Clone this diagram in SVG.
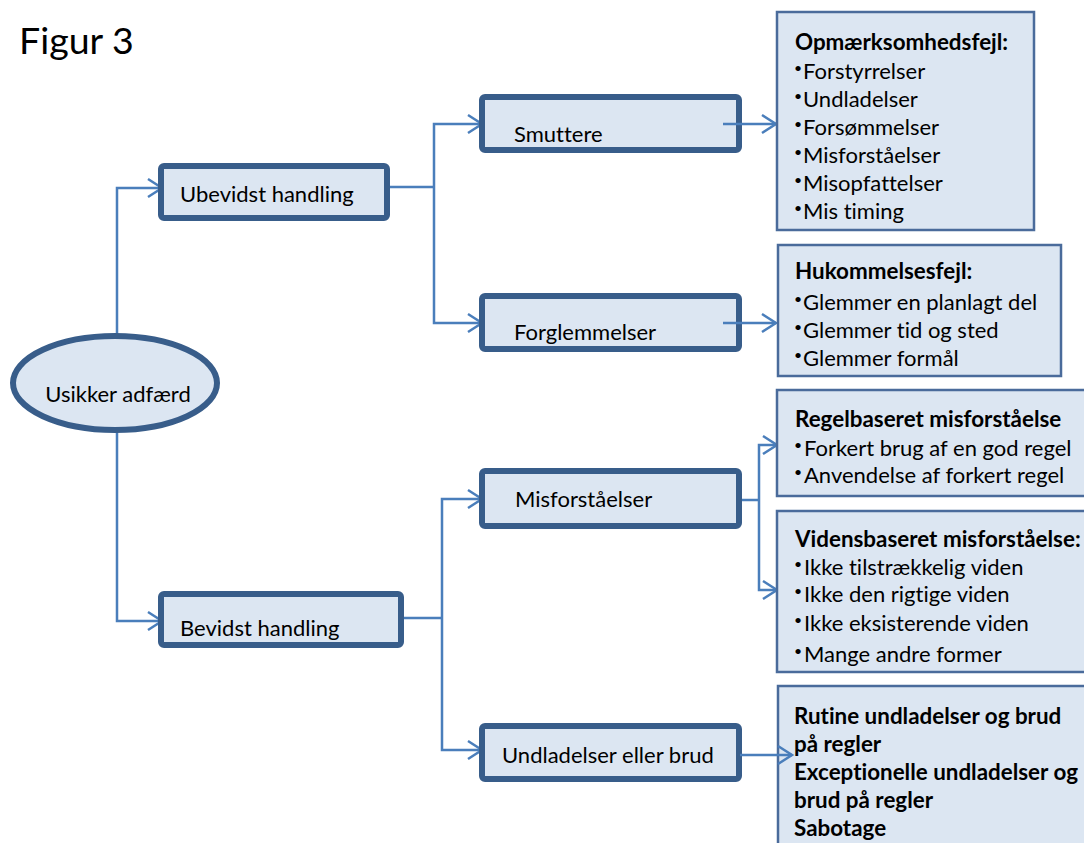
<svg xmlns="http://www.w3.org/2000/svg" width="1084" height="843" viewBox="0 0 1084 843">
  <defs>
    <marker id="arrow" viewBox="0 0 16 20" refX="15" refY="10" markerWidth="16" markerHeight="20" markerUnits="userSpaceOnUse" orient="auto" overflow="visible">
      <path d="M1,1 L15,10 L1,19" fill="none" stroke="#4a7ebb" stroke-width="2.5"/>
    </marker>
    <style>
      text { font-variant-ligatures: none; font-feature-settings: "liga" 0, "clig" 0; }
      .node { fill: #dce6f2; stroke: #385d8a; stroke-width: 6; }
      .info { fill: #dce6f2; stroke: #4a6b9b; stroke-width: 2.5; }
      .conn { fill: none; stroke: #4a7ebb; stroke-width: 2.5; }
      .lbl { font-family: Lato, "Liberation Sans", sans-serif; font-size: 22px; fill: #000; }
      .hd { font-family: Lato, "Liberation Sans", sans-serif; font-size: 22.4px; font-weight: bold; fill: #000; }
      .bul { font-family: Lato, "Liberation Sans", sans-serif; font-size: 14px; fill: #000; }
      .title { font-family: Lato, "Liberation Sans", sans-serif; font-size: 37.5px; fill: #000; }
    </style>
  </defs>

  <rect width="1084" height="843" fill="#ffffff"/>

  <text class="title" x="19" y="54">Figur 3</text>

  <!-- connectors -->
  <g id="connectors">
    <polyline class="conn" points="117,336 117,188 162,188" marker-end="url(#arrow)"/>
    <polyline class="conn" points="117,430 117,621 162,621" marker-end="url(#arrow)"/>
    <polyline class="conn" points="390,187 434,187"/>
    <polyline class="conn" points="434,187 434,124 482,124" marker-end="url(#arrow)"/>
    <polyline class="conn" points="434,187 434,323 482,323" marker-end="url(#arrow)"/>
    <polyline class="conn" points="404,618 442,618"/>
    <polyline class="conn" points="442,618 442,499 482,499" marker-end="url(#arrow)"/>
    <polyline class="conn" points="442,618 442,750 482,750" marker-end="url(#arrow)"/>
    <polyline class="conn" points="740,500 759,500"/>
    <polyline class="conn" points="759,500 759,445 777,445" marker-end="url(#arrow)"/>
    <polyline class="conn" points="759,500 759,590 777,590" marker-end="url(#arrow)"/>
  </g>

  <g id="usikker">
    <ellipse class="node" cx="115" cy="383" rx="102" ry="47"/>
    <text class="lbl" x="118" y="402" text-anchor="middle">Usikker adfærd</text>
  </g>

  <g id="ubevidst">
    <rect class="node" x="161" y="166" width="226" height="52" rx="3"/>
    <text class="lbl" x="180" y="202">Ubevidst handling</text>
  </g>

  <g id="bevidst">
    <rect class="node" x="161" y="594" width="240" height="51" rx="3"/>
    <text class="lbl" x="180" y="636">Bevidst handling</text>
  </g>

  <g id="smuttere">
    <rect class="node" x="482" y="97" width="257" height="53" rx="3"/>
    <text class="lbl" x="514" y="142">Smuttere</text>
  </g>

  <g id="forglemmelser">
    <rect class="node" x="482" y="296" width="257" height="53" rx="3"/>
    <text class="lbl" x="514" y="340">Forglemmelser</text>
  </g>

  <g id="misforstaaelser">
    <rect class="node" x="482" y="471" width="257" height="55" rx="3"/>
    <text class="lbl" x="515" y="507">Misforståelser</text>
  </g>

  <g id="undladelser">
    <rect class="node" x="482" y="726" width="257" height="53" rx="3"/>
    <text class="lbl" x="502" y="763">Undladelser eller brud</text>
  </g>

  <!-- arrows leaving the middle column, drawn over the boxes -->
  <g id="connectors-out">
    <line class="conn" x1="723" y1="124" x2="776" y2="124" marker-end="url(#arrow)"/>
    <line class="conn" x1="723" y1="323" x2="776" y2="323" marker-end="url(#arrow)"/>
  </g>

  <g id="opmaerksomhed">
    <rect class="info" x="777" y="12" width="257" height="218"/>
    <text class="hd" x="795" y="50">Opmærksomhedsfejl:</text>
    <g class="bul">
      <text x="794" y="73">•</text><text x="794" y="101">•</text><text x="794" y="129">•</text>
      <text x="794" y="157">•</text><text x="794" y="185">•</text><text x="794" y="213">•</text>
    </g>
    <text class="lbl" x="803" y="79">Forstyrrelser</text>
    <text class="lbl" x="803" y="107">Undladelser</text>
    <text class="lbl" x="803" y="135">Forsømmelser</text>
    <text class="lbl" x="803" y="163">Misforståelser</text>
    <text class="lbl" x="803" y="191">Misopfattelser</text>
    <text class="lbl" x="803" y="219">Mis timing</text>
  </g>

  <g id="hukommelse">
    <rect class="info" x="778" y="245" width="283" height="131"/>
    <text class="hd" x="795" y="279">Hukommelsesfejl:</text>
    <g class="bul">
      <text x="794" y="304">•</text><text x="794" y="332">•</text><text x="794" y="360">•</text>
    </g>
    <text class="lbl" x="803" y="310">Glemmer en planlagt del</text>
    <text class="lbl" x="803" y="338">Glemmer tid og sted</text>
    <text class="lbl" x="803" y="366">Glemmer formål</text>
  </g>

  <g id="regelbaseret">
    <rect class="info" x="777" y="390" width="320" height="106"/>
    <text class="hd" x="795" y="427">Regelbaseret misforståelse</text>
    <g class="bul">
      <text x="794" y="450">•</text><text x="794" y="477">•</text>
    </g>
    <text class="lbl" x="804" y="456">Forkert brug af en god regel</text>
    <text class="lbl" x="804" y="483">Anvendelse af forkert regel</text>
  </g>

  <g id="vidensbaseret">
    <rect class="info" x="777" y="511" width="320" height="161"/>
    <text class="hd" x="795" y="547">Vidensbaseret misforståelse:</text>
    <g class="bul">
      <text x="794" y="569">•</text><text x="794" y="596">•</text><text x="794" y="625">•</text><text x="794" y="656">•</text>
    </g>
    <text class="lbl" x="804" y="575">Ikke tilstrækkelig viden</text>
    <text class="lbl" x="804" y="602">Ikke den rigtige viden</text>
    <text class="lbl" x="804" y="631">Ikke eksisterende viden</text>
    <text class="lbl" x="804" y="662">Mange andre former</text>
  </g>

  <g id="brud">
    <rect class="info" x="778" y="686" width="320" height="170"/>
    <text class="hd" x="794" y="724">Rutine undladelser og brud</text>
    <text class="hd" x="794" y="752">på regler</text>
    <text class="hd" x="794" y="780">Exceptionelle undladelser og</text>
    <text class="hd" x="794" y="808">brud på regler</text>
    <text class="hd" x="794" y="836">Sabotage</text>
  </g>

  <g id="connectors-brud">
    <line class="conn" x1="740" y1="755" x2="792" y2="755" marker-end="url(#arrow)"/>
  </g>
</svg>
